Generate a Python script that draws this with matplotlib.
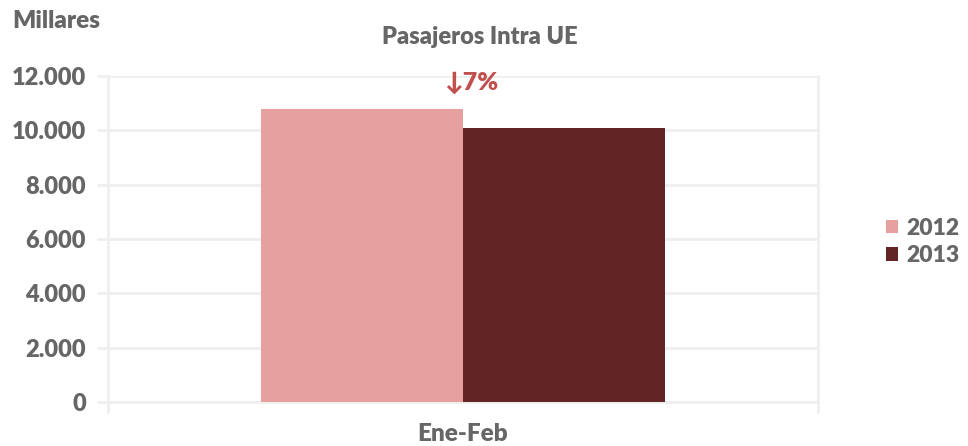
import matplotlib
matplotlib.use("Agg")
import matplotlib.pyplot as plt
import numpy as np

categories = ["Ene-Feb"]
series_names = ["2012", "2013"]
values_2012 = [10790]
values_2013 = [10080]
yticks = [0, 2000, 4000, 6000, 8000, 10000, 12000]
ytick_labels = ["0", "2.000", "4.000", "6.000", "8.000", "10.000", "12.000"]
annotation = "↓7%"

c2012 = "#E6A19E"
c2013 = "#632425"
txt = "#666666"
grid = "#EFEFEF"
red = "#C0504D"

plt.rcParams['font.family'] = ['Lato', 'DejaVu Sans']
fig = plt.figure(figsize=(9.68, 4.46), dpi=100)
ax = fig.add_axes([108/968, 1-402/446, 710/968, (402-76)/446])

x = np.arange(len(categories))
w = 0.2845
ax.bar(x - w/2, values_2012, w, color=c2012, label=series_names[0], zorder=3)
ax.bar(x + w/2, values_2013, w, color=c2013, label=series_names[1], zorder=3)

ax.set_xlim(-0.5, 0.5)
ax.set_ylim(0, 12000)
ax.set_yticks(yticks)
ax.set_yticklabels(ytick_labels, fontsize=17, fontweight='heavy', color=txt)
ax.yaxis.grid(True, color=grid, linewidth=2, zorder=0)
ax.tick_params(axis='y', length=8, color=grid, width=2, pad=8)

ax.set_xticks(x)
ax.set_xticklabels(categories, fontsize=17.5, fontweight='heavy', color=txt)
ax.set_xticks([-0.5, 0.5], minor=True)
ax.tick_params(axis='x', which='major', length=0, pad=15)
ax.tick_params(axis='x', which='minor', length=8, color=grid, width=2)

ax.spines['top'].set_visible(False)
for s in ['left', 'right', 'bottom']:
    ax.spines[s].set_color(grid)
    ax.spines[s].set_linewidth(2)

ax.text(0.011, 11750, annotation, ha='center', va='center', fontsize=18,
        fontweight='heavy', color=red, family=['Lato', 'DejaVu Sans'], clip_on=False)

fig.text(480/968, 1-37/446, "Pasajeros Intra UE", ha='center', va='center',
         fontsize=17, fontweight='heavy', color=txt)
fig.text(12/968, 1-21/446, "Millares", ha='left', va='center',
         fontsize=17.5, fontweight='heavy', color=txt)

leg = fig.legend(loc='center left', bbox_to_anchor=(865/968, 1-242/446), frameon=False,
                 prop={'size': 16.5, 'weight': 'heavy'}, handlelength=0.55, handleheight=0.55,
                 handletextpad=0.35, labelspacing=0.3)
for t in leg.get_texts():
    t.set_color(txt)

fig.savefig("out.png", dpi=100)
